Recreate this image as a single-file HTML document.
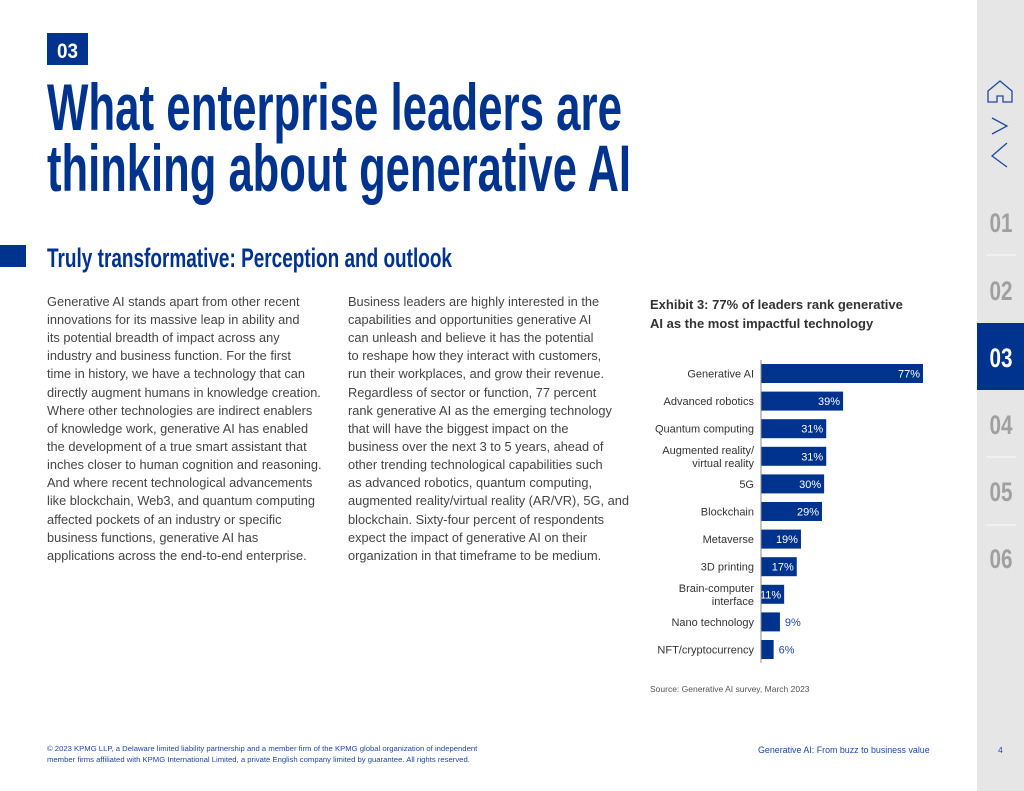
<!DOCTYPE html>
<html><head><meta charset="utf-8"><style>
body{margin:0;width:1024px;height:791px;background:#fff;overflow:hidden;font-family:"Liberation Sans",sans-serif}
svg{display:block}
.cond{font-family:"Liberation Sans Narrow","Liberation Sans",sans-serif;font-weight:bold}
</style></head><body>
<svg width="1024" height="791" viewBox="0 0 1024 791" xmlns="http://www.w3.org/2000/svg">
<g>
<rect x="977" y="0" width="47" height="791" fill="#e6e6e6"/>
<g fill="none" stroke="#1e49a0" stroke-width="1.3">
<path d="M988 91 L1000 81 L1012 91 L1012 102 L1003 102 L1003 96 L997 96 L997 102 L988 102 Z"/>
</g>
<path d="M992 118 L1007 126 L992 134" fill="none" stroke="#1e49a0" stroke-width="1.3"/>
<path d="M1007 143 L992 156 L1007 167" fill="none" stroke="#1e49a0" stroke-width="1.3"/>
<rect x="977" y="323" width="47" height="67" fill="#00338d"/>
<g stroke="#fafafa" stroke-width="1"><line x1="986" y1="255" x2="1016" y2="255"/><line x1="986" y1="457" x2="1016" y2="457"/><line x1="986" y1="525" x2="1016" y2="525"/></g>
<g class="cond" font-size="27" text-anchor="middle" fill="#a0a0a0">
<text x="1001" y="232" textLength="23" lengthAdjust="spacingAndGlyphs">01</text>
<text x="1001" y="300" textLength="23" lengthAdjust="spacingAndGlyphs">02</text>
<text x="1001" y="367" fill="#fff" textLength="23" lengthAdjust="spacingAndGlyphs">03</text>
<text x="1001" y="434" textLength="23" lengthAdjust="spacingAndGlyphs">04</text>
<text x="1001" y="501" textLength="23" lengthAdjust="spacingAndGlyphs">05</text>
<text x="1001" y="568" textLength="23" lengthAdjust="spacingAndGlyphs">06</text>
</g>
</g>
<rect x="47" y="33" width="41" height="32" fill="#00338d"/>
<text class="cond" x="57" y="58" font-size="21" fill="#fff" textLength="21" lengthAdjust="spacingAndGlyphs">03</text>
<g class="cond" fill="#00338d" font-size="66">
<text x="47" y="130" textLength="575" lengthAdjust="spacingAndGlyphs">What enterprise leaders are</text>
<text x="47" y="191" textLength="584" lengthAdjust="spacingAndGlyphs">thinking about generative AI</text>
</g>
<rect x="0" y="245" width="26" height="22" fill="#00338d"/>
<text class="cond" x="47" y="267" font-size="27" fill="#00338d" textLength="405" lengthAdjust="spacingAndGlyphs">Truly transformative: Perception and outlook</text>
<g font-size="12.8" fill="#444">
<text x="47" y="306">Generative AI stands apart from other recent</text>
<text x="47" y="324">innovations for its massive leap in ability and</text>
<text x="47" y="342">its potential breadth of impact across any</text>
<text x="47" y="360">industry and business function. For the first</text>
<text x="47" y="378">time in history, we have a technology that can</text>
<text x="47" y="397">directly augment humans in knowledge creation.</text>
<text x="47" y="415">Where other technologies are indirect enablers</text>
<text x="47" y="433">of knowledge work, generative AI has enabled</text>
<text x="47" y="451">the development of a true smart assistant that</text>
<text x="47" y="469">inches closer to human cognition and reasoning.</text>
<text x="47" y="487">And where recent technological advancements</text>
<text x="47" y="505">like blockchain, Web3, and quantum computing</text>
<text x="47" y="524">affected pockets of an industry or specific</text>
<text x="47" y="542">business functions, generative AI has</text>
<text x="47" y="560">applications across the end-to-end enterprise.</text>
</g>
<g font-size="12.8" fill="#444">
<text x="348" y="306">Business leaders are highly interested in the</text>
<text x="348" y="324">capabilities and opportunities generative AI</text>
<text x="348" y="342">can unleash and believe it has the potential</text>
<text x="348" y="360">to reshape how they interact with customers,</text>
<text x="348" y="378">run their workplaces, and grow their revenue.</text>
<text x="348" y="397">Regardless of sector or function, 77 percent</text>
<text x="348" y="415">rank generative AI as the emerging technology</text>
<text x="348" y="433">that will have the biggest impact on the</text>
<text x="348" y="451">business over the next 3 to 5 years, ahead of</text>
<text x="348" y="469">other trending technological capabilities such</text>
<text x="348" y="487">as advanced robotics, quantum computing,</text>
<text x="348" y="505">augmented reality/virtual reality (AR/VR), 5G, and</text>
<text x="348" y="524">blockchain. Sixty-four percent of respondents</text>
<text x="348" y="542">expect the impact of generative AI on their</text>
<text x="348" y="560">organization in that timeframe to be medium.</text>
</g>
<g font-size="13" font-weight="bold" fill="#333">
<text x="650" y="309">Exhibit 3: 77% of leaders rank generative</text>
<text x="650" y="328">AI as the most impactful technology</text>
</g>
<g id="chart"></g>
<text x="650" y="692" font-size="8.5" fill="#555">Source: Generative AI survey, March 2023</text>
<g font-size="7.7" fill="#1e49a0">
<text x="47" y="751">© 2023 KPMG LLP, a Delaware limited liability partnership and a member firm of the KPMG global organization of independent</text>
<text x="47" y="762">member firms affiliated with KPMG International Limited, a private English company limited by guarantee. All rights reserved.</text>
<text x="758" y="753" font-size="8.9">Generative AI: From buzz to business value</text>
<text x="998" y="753" font-size="8.5">4</text>
</g>
</svg>
<script>
const categories=[["Generative AI"],["Advanced robotics"],["Quantum computing"],["Augmented reality/","virtual reality"],["5G"],["Blockchain"],["Metaverse"],["3D printing"],["Brain-computer","interface"],["Nano technology"],["NFT/cryptocurrency"]];
const values=[77,39,31,31,30,29,19,17,11,9,6];
const valueLabels=["77%","39%","31%","31%","30%","29%","19%","17%","11%","9%","6%"];
const NS="http://www.w3.org/2000/svg";
const g=document.getElementById('chart');
const x0=761, pxPer=2.104, yTop=364, step=27.6, barH=19;
const xs=v=>x0+v*pxPer;
const ys=i=>yTop+i*step;
function mk(t,a){const e=document.createElementNS(NS,t);for(const k in a)e.setAttribute(k,a[k]);g.appendChild(e);return e;}
values.forEach((v,i)=>{
  const r=mk('rect',{x:x0,y:ys(i),width:xs(v)-x0,height:barH,fill:'#00338d'});
  
  
  const cy=ys(i)+barH/2;
  const inside=v>=11;
  const t=mk('text',{x:inside?xs(v)-3:xs(v)+5,y:cy+4,'font-size':'11','text-anchor':inside?'end':'start',fill:inside?'#fff':'#1e49a0'});
  t.textContent=valueLabels[i];
  
  
  const lines=categories[i];
  lines.forEach((s,j)=>{
    const l=mk('text',{x:754,y:cy+4+(j-(lines.length-1)/2)*13,'font-size':'11','text-anchor':'end',fill:'#333'});
    l.textContent=s;
    
    
  });
});
const ax=mk('line',{x1:x0,y1:yTop-4,x2:x0,y2:ys(values.length-1)+barH+4,stroke:'#888','stroke-width':1});


</script>
</body></html>
